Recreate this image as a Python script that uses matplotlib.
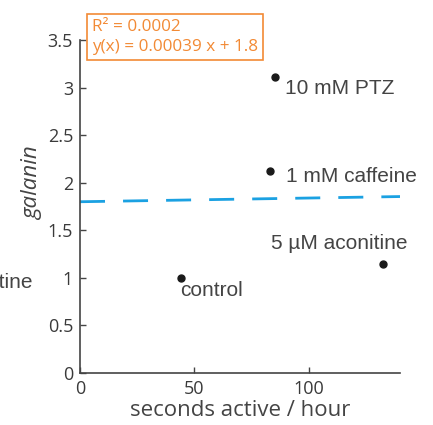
import numpy as np
import matplotlib
matplotlib.use("Agg")
import matplotlib.pyplot as plt

# activity vs galanin expression per treatment
treatments = ["control", "1 mM caffeine", "10 mM PTZ", "5 µM aconitine"]
seconds_active = [44, 83, 85.5, 132.5]
galanin = [1.0, 2.12, 3.11, 1.15]

# linear fit reported in the box
slope = 0.00039
intercept = 1.8
r_squared = 0.0002

# label offsets (pixels) from each point
label_offsets = [(0, -13), (16, -5), (10, -11), (-112, 20)]

TICK_FONT = "Open Sans"
LABEL_FONT = "Liberation Sans"
GREY = "#444444"
ORANGE = "#f28a35"
BLUE = "#1ba1e2"

fig = plt.figure(figsize=(4.33, 4.25), dpi=100)
ax = fig.add_axes([80 / 433, 52 / 425, 320 / 433, 333 / 425])

ax.plot(seconds_active, galanin, "o", color="#1a1a1a", markersize=5, zorder=3)

xfit = np.array([0, 140])
ax.plot(xfit, slope * xfit + intercept, color=BLUE, lw=2,
        dashes=(9, 6.5), zorder=2)

for name, x, y, off in zip(treatments, seconds_active, galanin, label_offsets):
    ax.annotate(name, (x, y), xytext=off, textcoords="offset pixels",
                ha="left", va="center", fontsize=15, color=GREY,
                family=LABEL_FONT, annotation_clip=False)

# the aconitine label repeated off to the left, cut by the figure edge
fig.text(32 / 433, 1 - 283 / 425, "5 µM aconitine", ha="right", va="center",
         fontsize=15, color=GREY, family=LABEL_FONT)

ax.set_xlim(0, 140)
ax.set_ylim(0, 3.5)
ax.set_xticks([0, 50, 100])
ax.set_yticks([0, 0.5, 1, 1.5, 2, 2.5, 3, 3.5])
ax.set_yticklabels(["0", "0.5", "1", "1.5", "2", "2.5", "3", "3.5"])

for side in ["top", "right"]:
    ax.spines[side].set_visible(False)
for side in ["left", "bottom"]:
    ax.spines[side].set_color(GREY)
    ax.spines[side].set_linewidth(1.2)

ax.tick_params(direction="in", length=4, width=1, colors=GREY,
               labelsize=13, pad=5)
for lab in ax.get_xticklabels() + ax.get_yticklabels():
    lab.set_family(TICK_FONT)
    lab.set_color("#3a3a3a")

ax.set_xlabel("seconds active / hour", fontsize=16, color=GREY,
              family=TICK_FONT)
ax.xaxis.set_label_coords(0.5, -37 / 333, transform=ax.transAxes)
ax.xaxis.label.set_va("center")
ax.set_ylabel("galanin", fontsize=16, color=GREY, family=TICK_FONT,
              style="italic")
ax.yaxis.set_label_coords(-47 / 320, 0.57)
ax.yaxis.label.set_va("center")

box_text = f"R² = {r_squared}\ny(x) = {slope} x + {intercept}"
fig.text(92 / 433, 1 - 37 / 425, box_text, ha="left", va="center",
         fontsize=12.3, color=ORANGE, family=TICK_FONT, linespacing=1.3,
         bbox=dict(boxstyle="square,pad=0.3", facecolor="white",
                   edgecolor=ORANGE, linewidth=1.2))

fig.savefig("out.png", dpi=100)
